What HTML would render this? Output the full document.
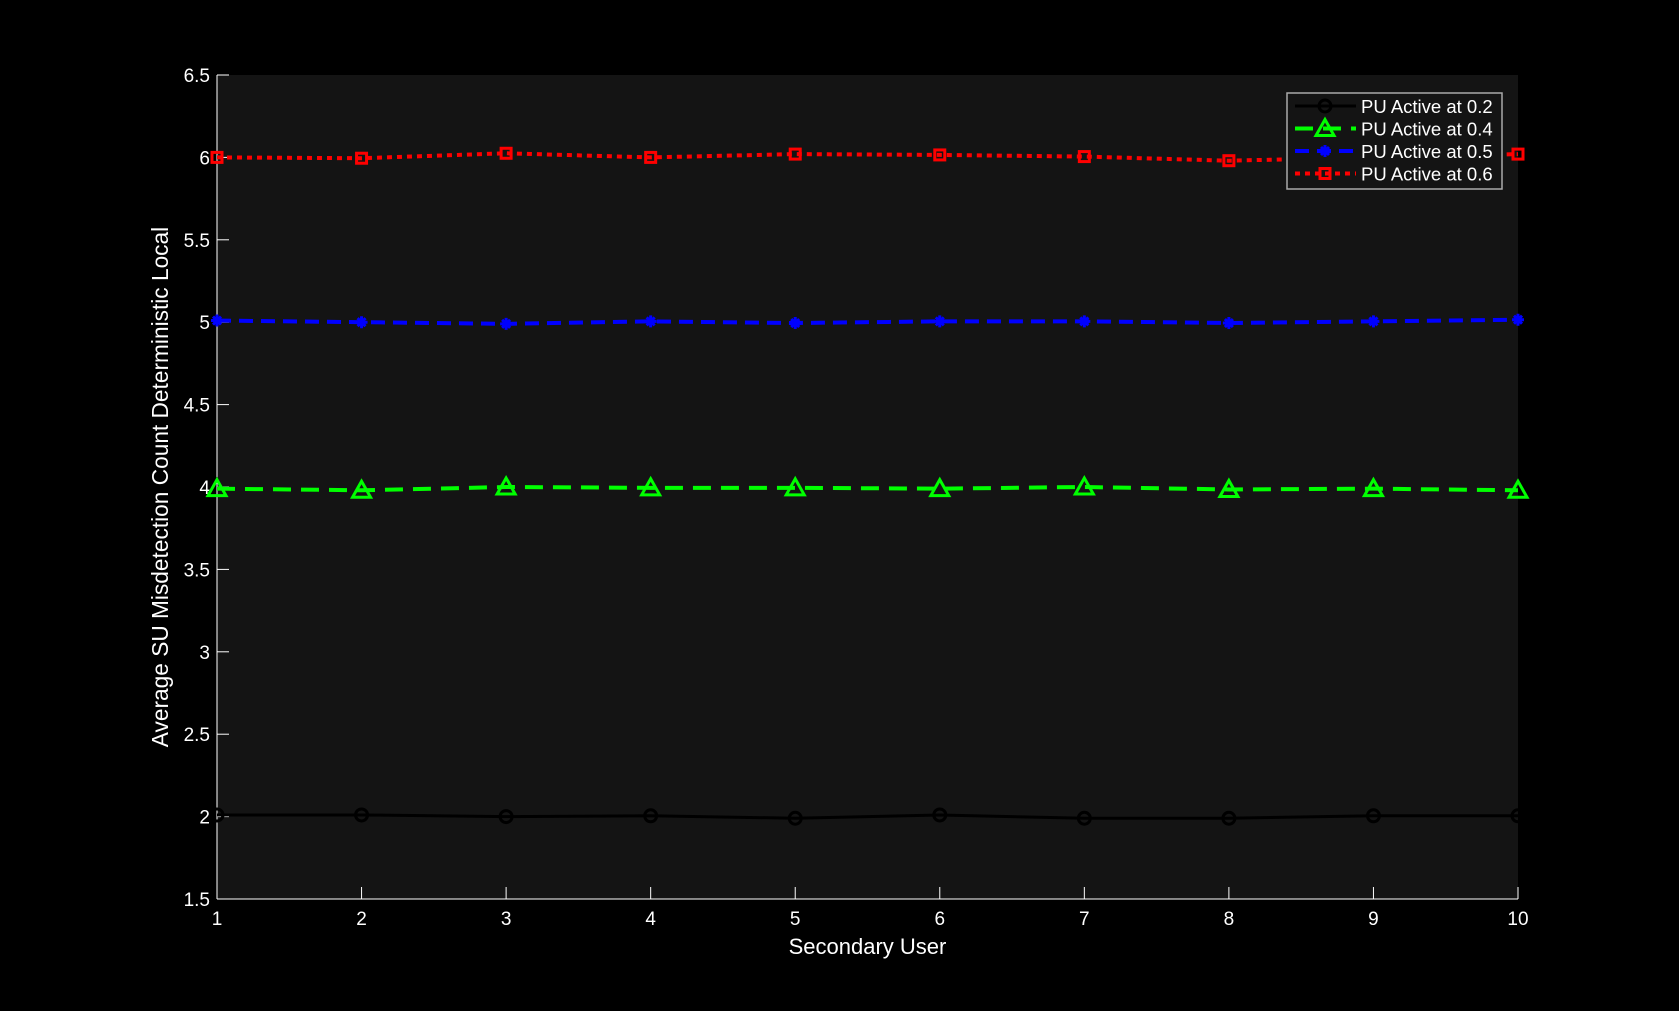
<!DOCTYPE html>
<html><head><meta charset="utf-8"><style>
html,body{margin:0;padding:0;background:#000;}
svg{display:block;font-family:"Liberation Sans",Arial,sans-serif;}
</style></head><body>
<svg id="chart" width="1679" height="1011" viewBox="0 0 1679 1011">
<rect x="0" y="0" width="1679" height="1011" fill="#000"/>
<rect x="217" y="75" width="1301" height="824" fill="#141414"/>
<g id="axes"></g>
<g id="series"></g>
<g id="legend"></g>
</svg>
<script>
const categories=[1,2,3,4,5,6,7,8,9,10];
const xTicks=[1,2,3,4,5,6,7,8,9,10];
const yTicks=[1.5,2,2.5,3,3.5,4,4.5,5,5.5,6,6.5];
const yTickLabels=["1.5","2","2.5","3","3.5","4","4.5","5","5.5","6","6.5"];
const seriesNames=["PU Active at 0.2","PU Active at 0.4","PU Active at 0.5","PU Active at 0.6"];
const s02=[2.01,2.01,2.0,2.005,1.99,2.01,1.99,1.99,2.005,2.005];
const s04=[3.99,3.98,4.0,3.995,3.995,3.99,4.0,3.985,3.99,3.98];
const s05=[5.01,5.0,4.99,5.005,4.995,5.005,5.005,4.995,5.005,5.015];
const s06=[6.0,5.995,6.025,6.0,6.02,6.015,6.005,5.98,6.0,6.02];

const L=217,R=1518,T=75,B=899,xMin=1,xMax=10,yMin=1.5,yMax=6.5;
const xs=v=>L+(v-xMin)/(xMax-xMin)*(R-L);
const ys=v=>B-(v-yMin)/(yMax-yMin)*(B-T);
const NS="http://www.w3.org/2000/svg";
function mk(tag,attrs,parent){const e=document.createElementNS(NS,tag);for(const k in attrs)e.setAttribute(k,attrs[k]);parent.appendChild(e);return e;}
const axes=document.getElementById('axes');
let e;
e=mk('line',{x1:L,y1:T,x2:L,y2:B,stroke:'#fff','stroke-width':1},axes);


e=mk('line',{x1:L,y1:B,x2:R,y2:B,stroke:'#fff','stroke-width':1},axes);


xTicks.forEach(v=>{
  e=mk('line',{x1:xs(v),y1:B,x2:xs(v),y2:B-12,stroke:'#fff'},axes);
  
  
  e=mk('text',{x:xs(v),y:B+26,fill:'#fff','font-size':19,'text-anchor':'middle'},axes);e.textContent=v;
  
  
});
yTicks.forEach((v,i)=>{
  e=mk('line',{x1:L,y1:ys(v),x2:L+12,y2:ys(v),stroke:'#fff'},axes);
  
  
  e=mk('text',{x:L-7,y:ys(v)+7,fill:'#fff','font-size':19,'text-anchor':'end'},axes);e.textContent=yTickLabels[i];
  
  
});
e=mk('text',{x:(L+R)/2,y:954,fill:'#fff','font-size':22,'text-anchor':'middle'},axes);e.textContent='Secondary User';


e=mk('text',{x:0,y:0,fill:'#fff','font-size':22.7,'text-anchor':'middle',transform:`translate(168,${(T+B)/2}) rotate(-90)`},axes);e.textContent='Average SU Misdetection Count Deterministic Local';



const styles=[
 {data:s02,color:'#000',dash:'',w:3,marker:'circle'},
 {data:s04,color:'#00ff00',dash:'18,10',w:4,marker:'tri'},
 {data:s05,color:'#0000ff',dash:'14,8',w:4,marker:'star'},
 {data:s06,color:'#ff0000',dash:'5,5',w:4,marker:'square'}
];
function marker(g,type,x,y,color){
  let m;
  if(type==='circle')m=mk('circle',{cx:x,cy:y,r:6,fill:'none',stroke:color,'stroke-width':3},g);
  else if(type==='tri')m=mk('polygon',{points:`${x},${y-9} ${x-9},${y+7} ${x+9},${y+7}`,fill:'none',stroke:color,'stroke-width':3},g);
  else if(type==='star')m=mk('path',{d:`M${x-6},${y}L${x+6},${y}M${x},${y-6}L${x},${y+6}M${x-4},${y-4}L${x+4},${y+4}M${x-4},${y+4}L${x+4},${y-4}`,stroke:color,'stroke-width':3},g);
  else m=mk('rect',{x:x-5,y:y-5,width:10,height:10,fill:'none',stroke:color,'stroke-width':3},g);
  return m;
}
const sg=document.getElementById('series');
styles.forEach((s,i)=>{
  const g=mk('g',{},sg);
  
  
  const pts=s.data.map((v,j)=>xs(categories[j])+','+ys(v)).join(' ');
  const pl=mk('polyline',{points:pts,fill:'none',stroke:s.color,'stroke-width':s.w,'stroke-dasharray':s.dash},g);
  
  
  s.data.forEach((v,j)=>{
    const m=marker(g,s.marker,xs(categories[j]),ys(v),s.color);
    
    
  });
});
const lg=document.getElementById('legend');


e=mk('rect',{x:1287,y:93,width:215,height:96,fill:'#141414',stroke:'#aaa','stroke-width':1.5},lg);


styles.forEach((s,i)=>{
  const y=106+i*22.5;
  const g=mk('g',{},lg);
  
  
  mk('line',{x1:1295,y1:y,x2:1356,y2:y,stroke:s.color,'stroke-width':s.w,'stroke-dasharray':s.dash},g);
  marker(g,s.marker,1325,y,s.color);
  const t=mk('text',{x:1361,y:y+7,fill:'#fff','font-size':18.5},g);t.textContent=seriesNames[i];
});
</script>
</body></html>
